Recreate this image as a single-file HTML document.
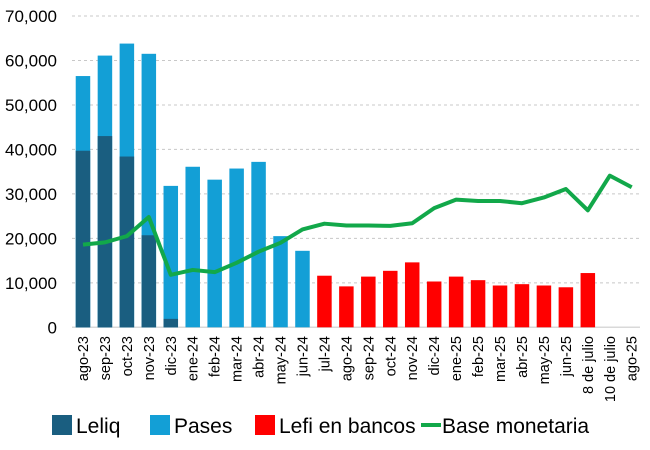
<!DOCTYPE html>
<html><head><meta charset="utf-8"><style>
body{margin:0;background:#fff}
svg{display:block;font-family:"Liberation Sans",Carlito,sans-serif}
</style></head><body>
<svg id="c" width="650" height="450" xmlns="http://www.w3.org/2000/svg"></svg>
<script>
const s=document.getElementById('c');
const cats=["ago-23","sep-23","oct-23","nov-23","dic-23","ene-24","feb-24","mar-24","abr-24","may-24","jun-24","jul-24","ago-24","sep-24","oct-24","nov-24","dic-24","ene-25","feb-25","mar-25","abr-25","may-25","jun-25","8 de julio","10 de julio","ago-25"];
const leliq=[39.7,43,38.4,20.7,1.9];
const tot=[56.5,61.1,63.8,61.5,31.8,36.1,33.2,35.7,37.2,20.5,17.2];
const red=[11.6,9.2,11.4,12.7,14.6,10.3,11.4,10.6,9.4,9.7,9.4,9.0,12.2];
const g=[18.6,19.1,20.5,24.8,11.8,12.9,12.4,14.5,17,19,22,23.3,22.9,22.9,22.8,23.4,26.8,28.7,28.4,28.4,27.9,29.2,31.1,26.3,34.1,31.5];
const y0=327.3,k=4.447,x0=72,pw=21.95,bw=14.5;
const Y=v=>y0-v*k,X=i=>x0+pw*(i+0.5);
let h='';
for(let i=1;i<=7;i++){const y=Y(i*10);h+=`<line x1="72" x2="640" y1="${y}" y2="${y}" stroke="#c8c8c8" stroke-dasharray="3,3"/>`;}
for(let i=0;i<=7;i++){h+=`<text x="57" y="${Y(i*10)+6}" font-size="17" text-anchor="end" fill="#000">${i?i*10+',000':'0'}</text>`;}
h+=`<line x1="72" x2="640" y1="${y0}" y2="${y0}" stroke="#d9d9d9" stroke-width="1.5"/>`;
tot.forEach((v,i)=>{h+=`<rect x="${X(i)-bw/2}" y="${Y(v)}" width="${bw}" height="${v*k}" fill="#139fd6"/>`;});
leliq.forEach((v,i)=>{h+=`<rect x="${X(i)-bw/2}" y="${Y(v)}" width="${bw}" height="${v*k}" fill="#1a5e80"/>`;});
red.forEach((v,j)=>{const i=j+11;h+=`<rect x="${X(i)-bw/2}" y="${Y(v)}" width="${bw}" height="${v*k}" fill="#ff0000"/>`;});
h+=`<polyline fill="none" stroke="#12a84a" stroke-width="4" stroke-linejoin="round" points="${g.map((v,i)=>X(i)+','+Y(v)).join(' ')}"/>`;
cats.forEach((c,i)=>{h+=`<text transform="translate(${X(i)+5},336) rotate(-90)" font-size="14.5" text-anchor="end" fill="#000">${c}</text>`;});
const ly=425;
h+=`<rect x="52" y="${ly-10}" width="20" height="20" fill="#1a5e80"/><text x="76" y="${ly+8}" font-size="21">Leliq</text>`;
h+=`<rect x="150" y="${ly-10}" width="20" height="20" fill="#139fd6"/><text x="174" y="${ly+8}" font-size="21">Pases</text>`;
h+=`<rect x="255" y="${ly-10}" width="20" height="20" fill="#ff0000"/><text x="279" y="${ly+8}" font-size="21">Lefi en bancos</text>`;
h+=`<line x1="421" x2="441" y1="${ly}" y2="${ly}" stroke="#12a84a" stroke-width="4"/><text x="442" y="${ly+8}" font-size="21">Base monetaria</text>`;
s.innerHTML=h;
</script>
</body></html>
